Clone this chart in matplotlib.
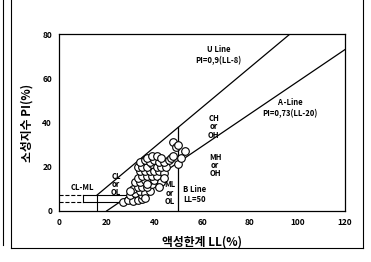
import matplotlib
matplotlib.use('Agg')
import matplotlib.pyplot as plt
from matplotlib.lines import Line2D
import numpy as np

plt.rcParams['font.family'] = ['Noto Sans CJK KR', 'DejaVu Sans']

# liquid limit / plasticity index of the samples
ll = [27, 29, 31, 33, 35, 35, 30, 32, 34, 36, 38, 31, 33, 35, 37, 39, 32, 34, 36,
      38, 40, 33, 35, 37, 39, 41, 34, 36, 38, 40, 42, 44, 33, 35, 37, 39, 41, 43,
      45, 34, 36, 38, 40, 42, 44, 46, 37, 39, 41, 43, 47, 48, 50, 51, 53, 48, 49,
      50, 43, 42, 44, 36, 30, 37]
pi = [4, 5, 4.5, 5, 5.5, 7, 7, 8, 9, 8, 9, 10, 11, 11, 11, 12, 13, 13, 14,
      14, 14, 15, 16, 16, 16, 16, 18, 18, 18, 18, 18, 17, 20, 20, 20, 21, 20, 20,
      20, 22, 23, 22, 23, 22, 22, 23, 24, 25, 25, 24, 24, 25, 21, 24, 27, 31, 29,
      30, 13, 11, 15, 6, 9, 12]

u_ll = [16, 120]
a_ll = [20, 120]

fig = plt.figure(figsize=(3.71, 2.62), dpi=100)
ax = fig.add_axes([0.159, 0.195, 0.771, 0.675])

# U line and A line
u_x = np.array(u_ll, dtype=float)
ax.plot(u_x, 0.9 * (u_x - 8), color='black', lw=0.9)
a_x = np.array(a_ll, dtype=float)
ax.plot(a_x, 0.73 * (a_x - 20), color='black', lw=0.9)

# B line
ax.plot([50, 50], [0, 0.9 * (50 - 8)], color='black', lw=0.9)

# CL-ML zone
ax.plot([0, 10], [7, 7], color='black', lw=0.8, ls='--')
ax.plot([0, 10], [4, 4], color='black', lw=0.8, ls='--')
ax.plot([10, 20 + 7 / 0.73], [7, 7], color='black', lw=0.8)
ax.plot([10, 20 + 4 / 0.73], [4, 4], color='black', lw=0.8)
ax.plot([10, 10], [4, 7], color='black', lw=0.8)
ax.plot([16, 16], [0, 7.2], color='black', lw=0.8)

ax.plot(ll, pi, 'o', ms=5.5, mfc='white', mec='black', mew=0.8)

fs = 5.5
kw = dict(fontsize=fs, fontweight='bold', ha='center', va='center', linespacing=0.9)
ax.text(67, 73, 'U Line', **kw)
ax.text(67, 68, 'PI=0,9(LL-8)', **kw)
ax.text(97, 49, 'A -Line', **kw)
ax.text(97, 44, 'PI=0,73(LL-20)', **kw)
ax.text(65, 38, 'CH\nor\nOH', **kw)
ax.text(65.5, 20.5, 'MH\nor\nOH', **kw)
ax.text(46.5, 8, 'ML\nor\nOL', **kw)
ax.text(24, 12, 'CL\nor\nOL', **kw)
ax.text(10, 10.5, 'CL-ML', **kw)
ax.text(52, 9.5, 'B Line', fontsize=fs, fontweight='bold', ha='left', va='center')
ax.text(52, 5, 'LL=50', fontsize=fs, fontweight='bold', ha='left', va='center')

ax.set_xlim(0, 120)
ax.set_ylim(0, 80)
ax.set_xticks([0, 20, 40, 60, 80, 100, 120])
ax.set_yticks([0, 20, 40, 60, 80])
ax.tick_params(length=0, labelsize=6, pad=5)
for t in ax.get_xticklabels() + ax.get_yticklabels():
    t.set_fontweight('bold')
for s in ax.spines.values():
    s.set_linewidth(0.9)

ax.set_xlabel('액성한계 LL(%)', fontsize=8.5, fontweight='bold', labelpad=6)
ax.set_ylabel('소성지수 PI(%)', fontsize=8.5, fontweight='bold', labelpad=6)

# page frame lines from the scan
fig.add_artist(Line2D([3 / 371, 3 / 371], [1, 1 - 245 / 262], color='black', lw=0.8))
fig.add_artist(Line2D([11 / 371, 11 / 371], [1, 1 - 248 / 262], color='black', lw=0.8))
fig.add_artist(Line2D([11 / 371, 363 / 371], [1 - 248 / 262, 1 - 248 / 262], color='black', lw=0.8))
fig.add_artist(Line2D([363 / 371, 363 / 371], [1, 1 - 248 / 262], color='black', lw=0.8))

fig.savefig('out.png', dpi=100)
